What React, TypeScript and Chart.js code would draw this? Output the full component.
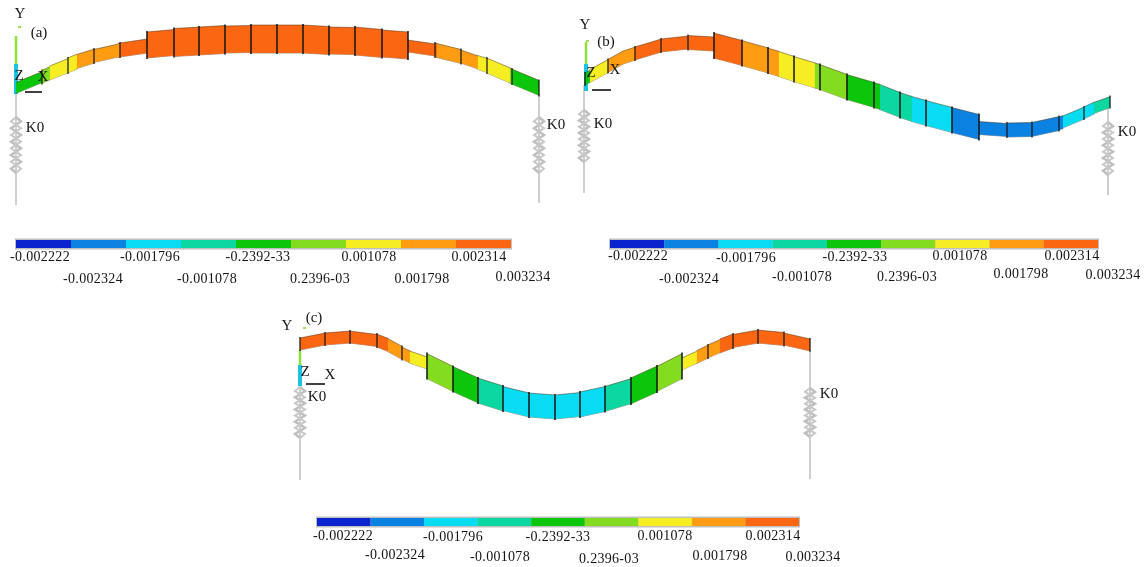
import React, { useEffect, useRef } from "react";
import { Chart, registerables } from "chart.js";

Chart.register(...registerables);

// colour-scale contour levels
const bandColors = ["#0b22cf", "#0a82e2", "#08dcf2", "#0ad8a0", "#0cc60c", "#84dc20", "#f6ee22", "#ff9c12", "#fb6612"];
const upperLabels = ["-0.002222", "-0.001796", "-0.2392-33", "0.001078", "0.002314"];
const lowerLabels = ["-0.002324", "-0.001078", "0.2396-03", "0.001798", "0.003234"];

// panel (a): deflected beam stations
const aX = [16, 42, 50, 68, 77, 94, 118, 120, 147, 147, 174, 199, 225, 251, 277, 303, 329, 355, 382, 408, 408, 435, 437, 461, 478, 487, 510, 512, 539];
const aY = [88, 77, 73, 65.5, 61.5, 56, 50.5, 50, 46, 45, 42.5, 41, 39.5, 39, 39, 39, 40.5, 41, 43.5, 45.5, 46, 50, 50.5, 56.5, 62.5, 65.5, 75.5, 76.5, 88];
const aDepth = [11, 13, 14, 15, 14, 13, 14, 14, 12, 26, 28, 28, 27, 28, 28, 28, 27, 28, 27, 27, 12, 14, 14, 13, 14, 15, 15, 15, 12];
const aBand = [4, 5, 6, 6, 7, 7, 7, 8, 8, 8, 8, 8, 8, 8, 8, 8, 8, 8, 8, 8, 8, 8, 7, 7, 6, 6, 5, 4, 4];
const aMesh = [42, 68, 94, 120, 147, 174, 199, 225, 251, 277, 303, 329, 355, 382, 408, 435, 461, 487, 512, 539];

// panel (b)
const bX = [585, 590, 608, 622, 635, 661, 688, 714, 714, 742, 768, 779, 794, 815, 820, 847, 874, 880, 900, 912, 926, 952, 979, 979, 1007, 1032, 1059, 1063, 1084, 1094, 1110];
const bY = [79, 76, 66, 58, 53.5, 45.5, 42.5, 44, 45.5, 53, 60.5, 64, 69, 75.5, 77, 87, 95, 97, 105, 109, 113, 120, 127, 128, 130, 129.5, 123.5, 122, 113, 108, 102];
const bDepth = [12, 13, 13, 13, 13, 13, 14, 13, 25, 25, 25, 25, 25, 25, 25, 25, 25, 25, 25, 25, 25, 25, 13, 13, 14, 14, 13, 12, 12, 11, 11];
const bBand = [4, 6, 7, 7, 8, 8, 8, 8, 8, 7, 7, 6, 6, 5, 5, 4, 4, 3, 3, 2, 2, 1, 1, 1, 1, 1, 1, 2, 2, 3, 3];
const bMesh = [585, 608, 635, 661, 688, 714, 742, 768, 794, 820, 847, 874, 900, 926, 952, 979, 1007, 1032, 1059, 1084, 1110];

// panel (c)
const cX = [300, 325, 350, 377, 388, 402, 410, 427, 427, 453, 478, 503, 529, 555, 580, 605, 631, 657, 682, 682, 697, 708, 720, 733, 758, 784, 810];
const cY = [344, 339, 337, 340.5, 345, 353, 357, 363, 366, 379, 390.5, 398.5, 405, 407, 404.5, 399, 391, 379, 366, 364, 357, 351.5, 346, 341, 336.5, 339, 345];
const cDepth = [12, 12, 12, 13, 13, 12, 12, 12, 25, 25, 25, 24, 24, 24, 25, 25, 26, 25, 12, 12, 13, 13, 14, 13, 13, 12, 12];
const cBand = [8, 8, 8, 8, 7, 7, 6, 6, 5, 4, 3, 2, 2, 2, 2, 3, 4, 5, 6, 6, 7, 7, 8, 8, 8, 8, 8];
const cMesh = [300, 325, 350, 377, 402, 427, 453, 478, 503, 529, 555, 580, 605, 631, 657, 682, 708, 733, 758, 784, 810];

// spring coil outline, read across one coil stack: lateral swing and fraction along its length
const springSwing = [0, 5, -5, 5, -5, 5, -5, 5, -5, 0];
const springStep = [0, 0.08, 0.2, 0.32, 0.44, 0.56, 0.68, 0.8, 0.92, 1];

const layout = {
  bars: [
    { left: 16, right: 511, y: 244, labelsUp: [[40, 257], [150, 257], [258, 257], [369, 257], [479, 257]], labelsLow: [[93, 279], [207, 279], [320, 279], [422, 279], [523, 277]] },
    { left: 610, right: 1098, y: 244, labelsUp: [[638, 256], [746, 258], [855, 257], [960, 256], [1072, 256]], labelsLow: [[689, 279], [802, 277], [907, 277], [1021, 274], [1113, 275]] },
    { left: 317, right: 799, y: 522, labelsUp: [[343, 536], [453, 537], [558, 537], [665, 536], [773, 536]], labelsLow: [[395, 555], [500, 557], [609, 559], [720, 556], [813, 557]] },
  ],
  springs: [
    { x: 16, base: 93, end: 205, top: 117, bottom: 173 },
    { x: 539, base: 94, end: 203, top: 117, bottom: 173 },
    { x: 584, base: 85, end: 193, top: 110, bottom: 162 },
    { x: 1108, base: 107, end: 195, top: 122, bottom: 175 },
    { x: 300, base: 350, end: 480, top: 387, bottom: 438 },
    { x: 810, base: 352, end: 479, top: 388, bottom: 437 },
  ],
  triads: [
    { x: 16, top: 36, mid: 64, base: 94, arrowY: 92, arrowFrom: 25, arrowTo: 42, tipX: 19, tipY: 27 },
    { x: 586, top: 42, mid: 64, base: 91, arrowY: 90, arrowFrom: 592, arrowTo: 611, tipX: 587, tipY: 41 },
    { x: 300, top: 350, mid: 365, base: 386, arrowY: 384, arrowFrom: 306, arrowTo: 325, tipX: 304, tipY: 328 },
  ],
  texts: [
    ["Y", 20, 14], ["(a)", 39, 33], ["Z", 19, 76], ["X", 43, 77], ["K0", 35, 128], ["K0", 556, 125],
    ["Y", 585, 25], ["(b)", 606, 42], ["Z", 591, 73], ["X", 615, 70], ["K0", 603, 124], ["K0", 1127, 132],
    ["Y", 287, 326], ["(c)", 314, 318], ["Z", 305, 372], ["X", 330, 375], ["K0", 317, 397], ["K0", 829, 394],
  ] as [string, number, number][],
};

function line(points: number[][], color: string, width: number) {
  return {
    data: points.map(([x, y]) => ({ x, y })),
    showLine: true,
    borderColor: color,
    borderWidth: width,
    borderCapStyle: "butt",
    pointRadius: 0,
    pointHoverRadius: 0,
    tension: 0,
    clip: false,
    fill: false,
  };
}

function buildDatasets() {
  const out: any[] = []; // painted bottom to top

  // springs and their leads
  for (const s of layout.springs) {
    out.push(line([[s.x, s.base], [s.x, s.end]], "#cfcfcf", 2));
    const coil = springSwing.map((dx, i) => [s.x + dx, s.top + springStep[i] * (s.bottom - s.top)]);
    out.push(line(coil, "#c0c0c0", 2.5));
    out.push(line(coil.map(([x, y]) => [2 * s.x - x, y]), "#c8c8c8", 2));
  }

  // coordinate triads
  for (const t of layout.triads) {
    out.push(line([[t.x, t.top], [t.x, t.mid]], "#8ee03a", 2.5));
    out.push(line([[t.x, t.mid], [t.x, t.base]], "#18c4e0", 4));
    out.push(line([[t.arrowFrom, t.arrowY], [t.arrowTo, t.arrowY]], "#111111", 1.6));
    out.push(line([[t.tipX - 1, t.tipY], [t.tipX + 2, t.tipY]], "#9ee050", 2));
  }

  // beams: every element is a band between its top and bottom edge, ends vertical
  const beams = [
    [aX, aY, aDepth, aBand, aMesh],
    [bX, bY, bDepth, bBand, bMesh],
    [cX, cY, cDepth, cBand, cMesh],
  ];
  const fringe = "rgba(60,30,0,0.45)";
  for (const [xs, ys, ds, bands, mesh] of beams) {
    for (let i = 0; i < xs.length - 1; i++) {
      if (xs[i] === xs[i + 1]) continue;
      const h = ds[i] / 2;
      const x0 = xs[i] - 0.3;
      const x1 = xs[i + 1] + 0.3;
      const bottom = line([[x0, ys[i] + h], [x1, ys[i + 1] + h]], fringe, 1);
      const top: any = line([[x0, ys[i] - h], [x1, ys[i + 1] - h]], fringe, 1);
      top.fill = "+1";
      top.backgroundColor = bandColors[bands[i]];
      // painted list is reversed at the end, so the filled edge must come after its partner here
      out.push(bottom, top);
    }
    for (const m of mesh) {
      const idx = xs.map((x, i) => (x === m ? i : -1)).filter((i) => i >= 0);
      const candidates = [...idx];
      if (idx[0] > 0) candidates.push(idx[0] - 1);
      let thick = candidates[0];
      for (const c of candidates) if (ds[c] > ds[thick]) thick = c;
      const half = ds[thick] / 2 + 1;
      const cy = ys[thick === idx[0] - 1 ? idx[0] : thick];
      out.push(line([[m, cy - half], [m, cy + half]], "#141414", ds[thick] > 20 ? 1.5 : 1.2));
    }
  }

  // colour scale bars
  for (const b of layout.bars) {
    out.push(line([[b.left - 1, b.y], [b.right + 1, b.y]], "#c0c0c0", 11));
    const w = (b.right - b.left) / bandColors.length;
    bandColors.forEach((c, i) => {
      out.push(line([[b.left + i * w, b.y], [b.left + (i + 1) * w, b.y]], c, 8));
    });
  }
  return out.reverse();
}

const textPlugin = {
  id: "annotationText",
  afterDatasetsDraw(chart: any) {
    const { ctx, scales } = chart;
    ctx.save();
    ctx.fillStyle = "#141414";
    ctx.textAlign = "center";
    ctx.textBaseline = "middle";
    ctx.font = "15px 'Liberation Serif'";
    for (const [t, x, y] of layout.texts) {
      ctx.fillText(t, scales.x.getPixelForValue(x), scales.y.getPixelForValue(y));
    }
    ctx.font = "14px 'Liberation Serif'";
    ctx.letterSpacing = "0.3px";
    for (const b of layout.bars) {
      upperLabels.forEach((t, i) => {
        ctx.fillText(t, scales.x.getPixelForValue(b.labelsUp[i][0]), scales.y.getPixelForValue(b.labelsUp[i][1]));
      });
      lowerLabels.forEach((t, i) => {
        ctx.fillText(t, scales.x.getPixelForValue(b.labelsLow[i][0]), scales.y.getPixelForValue(b.labelsLow[i][1]));
      });
    }
    ctx.restore();
  },
};

export default function App() {
  const ref = useRef<HTMLCanvasElement>(null);
  useEffect(() => {
    document.body.style.margin = "0";
    document.body.style.background = "#ffffff";
    const chart = new Chart(ref.current as HTMLCanvasElement, {
      type: "scatter",
      data: { datasets: buildDatasets() },
      options: {
        animation: false,
        responsive: false,
        devicePixelRatio: 1,
        layout: { padding: 0 },
        plugins: { legend: { display: false }, tooltip: { enabled: false } },
        events: [],
        scales: {
          x: { type: "linear", display: false, min: 0, max: 1144 },
          y: { type: "linear", display: false, min: 0, max: 567, reverse: true },
        },
      },
      plugins: [textPlugin],
    } as any);
    return () => chart.destroy();
  }, []);
  return <canvas ref={ref} width={1144} height={567} style={{ display: "block", filter: "blur(0.35px)" }} />;
}
